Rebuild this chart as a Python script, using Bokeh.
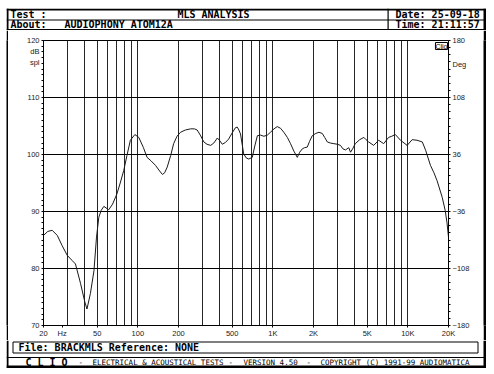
from bokeh.plotting import figure
from bokeh.layouts import column, row
from bokeh.models import Range1d, FixedTicker, LinearAxis, Label, Spacer
from bokeh.core.properties import value
from bokeh.embed import file_html
from bokeh.resources import INLINE
from bokeh.core.validation import silence
from bokeh.core.validation.warnings import MISSING_RENDERERS

silence(MISSING_RENDERERS, True)

# ---------------- data ----------------
freq_hz = [20, 21.5, 23.2, 25.3, 27.5, 30, 32.6, 34.5, 37.6, 40.5, 42, 44.5, 47.3, 49.4,
           51.4, 53.5, 56, 60.8, 65, 70, 74, 78.6, 83, 88, 95, 101.6, 110, 117, 125, 135,
           145, 152, 158, 165, 175, 184, 195, 207, 225, 246, 262, 275, 290, 308, 325, 346,
           365, 388, 405, 422, 445, 470, 500, 528, 545, 560, 576, 608, 635, 663, 704, 735,
           768, 810, 858, 910, 960, 1020, 1078, 1140, 1206, 1280, 1352, 1430, 1517, 1580,
           1654, 1720, 1798, 1870, 1958, 2080, 2196, 2322, 2420, 2532, 2680, 2832, 3000,
           3170, 3300, 3450, 3652, 3760, 3900, 4076, 4400, 4720, 4900, 5120, 5580, 6080,
           6620, 7200, 7600, 8080, 8820, 9880, 10760, 11700, 12800, 13560, 14700, 15600,
           16460, 17960, 18900, 19500, 20000]
spl_db = [85.8, 86.5, 86.7, 85.8, 84.0, 82.3, 81.4, 80.8, 77.4, 74.1, 72.9, 75.6, 79.6, 85.5,
          89.0, 90.2, 90.9, 90.3, 91.3, 93.1, 95.0, 97.2, 99.8, 102.5, 103.5, 103.0, 101.2,
          99.5, 98.9, 98.1, 97.1, 96.5, 96.8, 97.8, 99.8, 101.9, 103.2, 103.9, 104.3, 104.5,
          104.5, 104.3, 103.4, 102.2, 101.8, 101.6, 102.0, 102.9, 102.4, 101.8, 102.1, 102.7,
          103.8, 104.7, 104.8, 104.3, 103.6, 100.1, 99.4, 99.2, 99.5, 101.5, 103.3, 103.4,
          103.2, 103.4, 103.9, 104.5, 104.9, 104.6, 103.9, 103.0, 101.9, 100.6, 99.5, 100.4,
          101.0, 101.2, 101.3, 102.3, 103.3, 103.7, 103.9, 103.7, 103.0, 102.2, 102.0, 101.9,
          101.8, 101.6, 101.0, 100.8, 101.2, 100.4, 101.0, 101.9, 102.6, 103.0, 102.6, 102.2,
          101.6, 102.5, 101.9, 103.0, 103.2, 103.5, 102.5, 101.6, 102.6, 102.5, 102.2, 100.7,
          98.1, 96.8, 95.4, 92.5, 90.2, 88.0, 85.5]

x_ticks = [20, 27.5, 50, 100, 200, 500, 1000, 2000, 5000, 10000, 20000]
x_tick_labels = ["20", "Hz", "50", "100", "200", "500", "1K", "2K", "5K", "10K", "20K"]
x_grid = [20, 30, 40, 50, 60, 70, 80, 90, 100, 200, 300, 400, 500, 600, 700, 800, 900,
          1000, 2000, 3000, 4000, 5000, 6000, 7000, 8000, 9000, 10000, 20000]
y_ticks = [70, 80, 90, 100, 110, 120]
y_grid = [80, 90, 100, 110]
deg_ticks = [-180, -108, -36, 36, 108, 180]

header_texts = ["Test :", "MLS ANALYSIS", "About:", "AUDIOPHONY ATOM12A",
                "Date: 25-09-18", "Time: 21:11:57"]
file_text = "File: BRACKMLS Reference: NONE"
footer_parts = ["-", "ELECTRICAL & ACOUSTICAL TESTS", "-", "VERSION 4.50", "-",
                "COPYRIGHT (C) 1991-99 AUDIOMATICA"]

W = 480
MONO = value("DejaVu Sans Mono")
SANS = "Liberation Sans"


def panel(w, h):
    f = figure(width=w, height=h, x_range=Range1d(0, w), y_range=Range1d(h, 0),
               toolbar_location=None, min_border=0, x_axis_type=None, y_axis_type=None,
               outline_line_color=None, background_fill_color="white",
               border_fill_color="white", output_backend="svg")
    return f


# ---------------- header ----------------
HH = 22
hdr = panel(W, HH)
# top border, left border, right border, row separator, bottom separator, column separator
hdr.quad(left=[0, 0, W - 3, 0, 0, 381],
         right=[W, 2, W, W, W, 382.2],
         top=[0, 0, 0, 11, 20.5, 0],
         bottom=[2, HH, HH, 12, HH, HH],
         fill_color="black", line_color=None)
hdr.text(x=[4, 207, 4, 58, 389, 389], y=[6.2, 6.2, 16.0, 16.0, 6.2, 16.0],
         text=header_texts,
         text_align=["left", "center", "left", "left", "left", "left"],
         text_baseline="middle", text_font=MONO, text_font_style="bold",
         text_font_size="10px", text_color="black")

# ---------------- main chart ----------------
p = figure(width=W - 5, height=310, x_axis_type="log",
           x_range=Range1d(x_ticks[0], x_ticks[-1]), y_range=Range1d(y_ticks[0], y_ticks[-1]),
           toolbar_location=None, output_backend="svg",
           min_border_left=35, min_border_right=35, min_border_top=10, min_border_bottom=15,
           outline_line_color="black", background_fill_color="white", border_fill_color="white")
p.extra_y_ranges = {"deg": Range1d(deg_ticks[0], deg_ticks[-1])}

p.line(freq_hz, spl_db, line_color="#1a1a1a", line_width=1)

p.xgrid.ticker = FixedTicker(ticks=x_grid)
p.ygrid.ticker = FixedTicker(ticks=y_grid)
p.grid.grid_line_color = "black"
p.grid.grid_line_alpha = 1
p.grid.grid_line_width = 1
p.xgrid.grid_line_color = "#262626"

xa = p.xaxis[0]
xa.ticker = FixedTicker(ticks=x_ticks)
xa.major_label_overrides = {t: s for t, s in zip(x_ticks, x_tick_labels)}
xa.major_tick_out = 2
xa.major_tick_in = 0
xa.major_label_standoff = 1

ya = p.yaxis[0]
ya.ticker = FixedTicker(ticks=y_ticks + [117.1], minor_ticks=list(range(70, 121)))
ya.major_label_overrides = {117.1: "dB\nspl"}
ya.major_tick_out = 0
ya.major_tick_in = 0
ya.minor_tick_out = 2
ya.minor_tick_in = 0
ya.major_label_standoff = 2

ra = LinearAxis(y_range_name="deg",
                ticker=FixedTicker(ticks=deg_ticks + [150], minor_ticks=list(range(-180, 181, 9))))
ra.major_label_overrides = {150: "Deg"}
ra.major_tick_out = 0
ra.major_tick_in = 0
ra.minor_tick_out = 2
ra.minor_tick_in = 0
ra.major_label_standoff = 2
p.add_layout(ra, "right")

for ax in [xa, ya, ra]:
    ax.axis_line_color = "black"
    ax.major_tick_line_color = "black"
    ax.minor_tick_line_color = "black"
    ax.major_label_text_font = SANS
    ax.major_label_text_font_size = "7.5px"
    ax.major_label_text_color = "#1a1a1a"
xa.minor_tick_line_color = None

p.add_layout(Label(x=x_ticks[-1], y=y_ticks[-1], x_offset=-1, y_offset=-2, text="Clio",
                   text_align="right", text_baseline="top", text_font=SANS,
                   text_font_size="7px", text_color="black",
                   border_line_color="black", background_fill_color="white"))


def strip(w, h):
    s = figure(width=w, height=h, x_range=Range1d(0, 1), y_range=Range1d(0, 1),
               toolbar_location=None, min_border=0, x_axis_type=None, y_axis_type=None,
               outline_line_color=None, background_fill_color="black",
               border_fill_color="black", output_backend="svg")
    return s


mid = row(strip(2, 310), p, strip(3, 310))

# ---------------- file + footer ----------------
BH = 28
bot = panel(W, BH)
# left border, right border, bottom border, footer separator
bot.quad(left=[0, W - 3, 0, 0], right=[2, W, W, W], top=[0, 0, BH - 3, 16.5],
         bottom=[BH, BH, BH, 17.5], fill_color="black", line_color=None)
bot.quad(left=[6.5], right=[471.5], top=[1.5], bottom=[12.5], fill_color=None,
         line_color="black", line_width=1)
bot.text(x=[12], y=[7.3], text=[file_text], text_baseline="middle",
         text_font=MONO, text_font_style="bold", text_font_size="10px", text_color="black")
bot.text(x=[19], y=[21.5], text=["C L I O"], text_baseline="middle",
         text_font=MONO, text_font_style="bold", text_font_size="10px", text_color="black")
bot.text(x=[72, 86, 222, 237, 300, 314], y=[21.5] * 6, text=footer_parts,
         text_baseline="middle", text_font=MONO, text_font_size="7.5px", text_color="black")

inner = column(hdr, mid, bot)
layout = column(Spacer(width=W + 6, height=8), row(Spacer(width=6, height=HH + 310 + BH), inner))
open("out.html", "w").write(file_html(layout, INLINE))
